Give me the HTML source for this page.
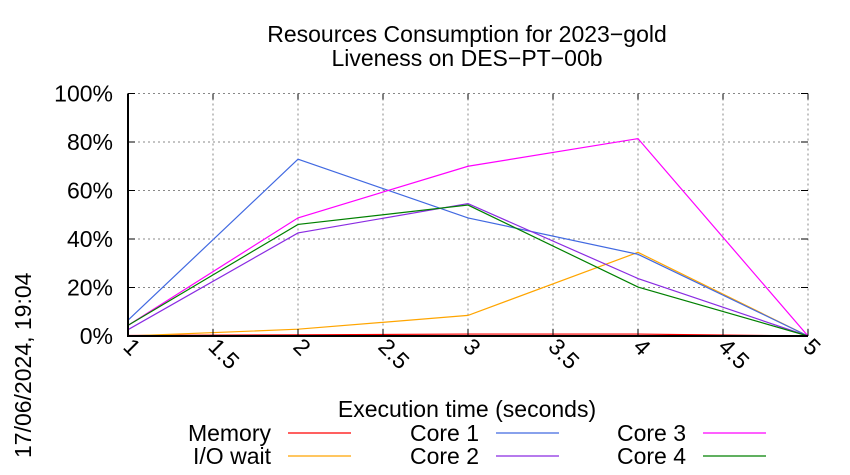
<!DOCTYPE html>
<html><head><meta charset="utf-8"><style>
body{margin:0;background:#fff}
svg{display:block;font-family:"Liberation Sans",sans-serif}
</style></head><body>
<svg id="chart" width="850" height="475" viewBox="0 0 850 475">
<text x="467" y="42" font-size="23" text-anchor="middle">Resources Consumption for 2023−gold</text>
<text x="467" y="66" font-size="23" text-anchor="middle">Liveness on DES−PT−00b</text>
<g id="grid"></g>
<g id="series"></g>
<g id="axes"></g>
<text x="467" y="417" font-size="23" text-anchor="middle">Execution time (seconds)</text>
<text transform="translate(31,458) rotate(-90)" font-size="23">17/06/2024, 19:04</text>
<g id="legend"></g>
</svg>
<script>
const xValues=[1,2,3,4,5];
const memory=[0.2,0.5,0.8,0.8,0];
const ioWait=[0,2.8,8.5,34.5,0];
const core1=[6.5,72.9,48.7,33.7,0];
const core2=[2.6,42.5,54.6,23.7,0];
const core3=[4.4,48.7,70,81.4,0];
const core4=[4.4,46,54,20.2,0];
const xTicks=[1,1.5,2,2.5,3,3.5,4,4.5,5];
const yTicks=[0,20,40,60,80,100];
const seriesNames=["Memory","I/O wait","Core 1","Core 2","Core 3","Core 4"];
const seriesColors=["#ff0000","#ffa500","#4169e1","#8a2be2","#ff00ff","#008000"];
const seriesData=[memory,ioWait,core1,core2,core3,core4];

const X0=128,X1=808,Y0=336,Y1=93.5;
const xs=v=>X0+(v-1)/(5-1)*(X1-X0);
const ys=v=>Y0-v/100*(Y0-Y1);
const NS="http://www.w3.org/2000/svg";
function mk(tag,parent,attrs){const e=document.createElementNS(NS,tag);for(const k in attrs)e.setAttribute(k,attrs[k]);parent.appendChild(e);return e;}
const grid=document.getElementById('grid'),axes=document.getElementById('axes'),ser=document.getElementById('series'),leg=document.getElementById('legend');

xTicks.forEach(t=>{
  const x=xs(t);
  const g=mk('line',grid,{x1:x,x2:x,y1:Y1,y2:Y0,stroke:'#888','stroke-dasharray':'2,3','stroke-width':1});
  
  
  const tk=mk('line',axes,{x1:x,x2:x,y1:Y0,y2:Y0-7,stroke:'#000','stroke-width':1});
  
  
  const tk2=mk('line',axes,{x1:x,x2:x,y1:Y1,y2:Y1+6,stroke:'#000','stroke-width':1});
  
  
  const lb=mk('text',axes,{transform:`translate(${x-6},${Y0+12}) rotate(45)`,'font-size':23});
  lb.textContent=String(t);
  
  
});
yTicks.forEach(t=>{
  const y=ys(t);
  const g=mk('line',grid,{x1:X0,x2:X1,y1:y,y2:y,stroke:'#888','stroke-dasharray':'2,3','stroke-width':1});
  
  
  const tk=mk('line',axes,{x1:X0,x2:X0+7,y1:y,y2:y,stroke:'#000','stroke-width':1});
  
  
  const tk2=mk('line',axes,{x1:X1,x2:X1-7,y1:y,y2:y,stroke:'#000','stroke-width':1});
  
  
  const lb=mk('text',axes,{x:X0-15,y:y+8,'font-size':23,'text-anchor':'end'});
  lb.textContent=t+'%';
  
  
});
const la=mk('path',axes,{d:`M${X0},${Y1}V${Y0}H${X1}`,fill:'none',stroke:'#000','stroke-width':2});



seriesData.forEach((d,i)=>{
  const pts=d.map((v,j)=>xs(xValues[j])+','+ys(v)).join(' ');
  const p=mk('polyline',ser,{points:pts,fill:'none',stroke:seriesColors[i],'stroke-width':1.2});
  
  
});

const legX=[271,479,686],legY=[441,464];
seriesNames.forEach((n,i)=>{
  const col=Math.floor(i/2),row=i%2;
  const t=mk('text',leg,{x:legX[col],y:legY[row],'font-size':23,'text-anchor':'end'});
  t.textContent=n;
  
  
  const l=mk('line',leg,{x1:legX[col]+17,x2:legX[col]+80,y1:legY[row]-8,y2:legY[row]-8,stroke:seriesColors[i],'stroke-width':1.2});
  
  
});
</script>
</body></html>
